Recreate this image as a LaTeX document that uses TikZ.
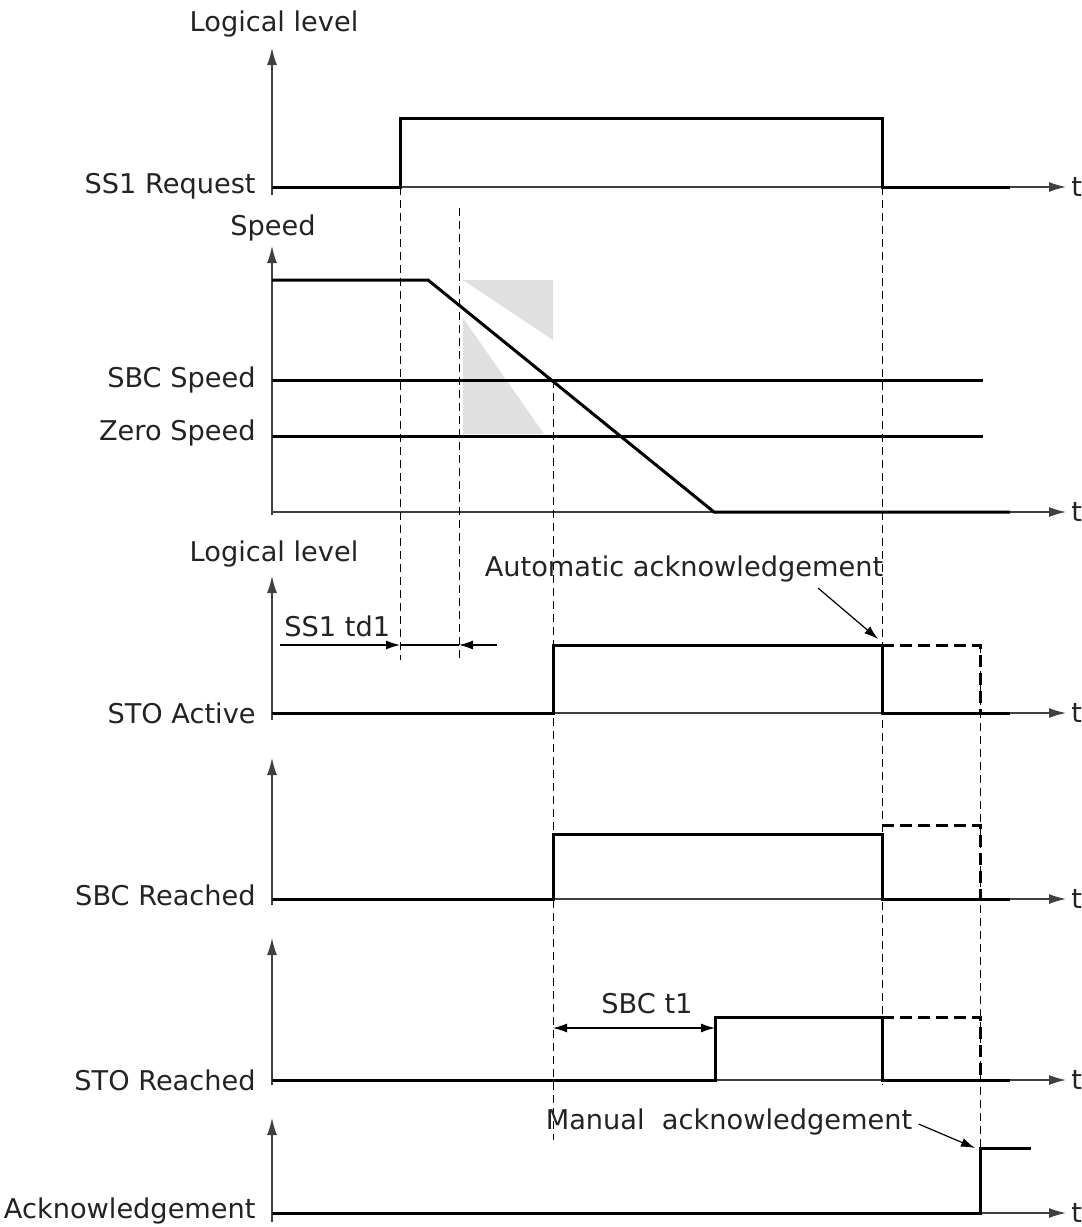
\documentclass[tikz,border=0pt]{standalone}
\usepackage{fontspec}
\setmainfont{DejaVu Sans}
\usetikzlibrary{arrows.meta, positioning}
\definecolor{ink}{RGB}{35,35,35}
\definecolor{wedge}{RGB}{224,224,224}

\begin{document}
\begin{tikzpicture}[x=0.5pt, y=-0.5pt,
    lbl/.style={anchor=east, font=\fontsize{13.6}{15}\selectfont, text=ink, inner sep=0pt},
    head/.style={font=\fontsize{13.6}{15}\selectfont, text=ink, inner sep=0pt},
    tlbl/.style={anchor=west, font=\fontsize{13.6}{15}\selectfont, text=ink, inner sep=0pt},
    axis/.style={-{Latex[length=8.5pt,width=5pt]}, line width=0.7pt, draw=black!75},
    sig/.style={line width=1.5pt},
    ghost/.style={line width=1.5pt, dash pattern=on 6pt off 3pt},
    guide/.style={line width=0.5pt, dash pattern=on 4pt off 2.5pt},
    ann/.style={-{Latex[length=7pt,width=4.5pt]}, line width=0.6pt},
  ]
  \useasboundingbox (0,0) rectangle (1082,1227);

  % gray wedges behind the speed ramp
  \fill[wedge] (463,280) -- (553,280) -- (553,340) -- cycle;
  \fill[wedge] (463,318) -- (463,434) -- (544,434) -- cycle;

  % axes
  \foreach \ya/\yb/\yt in {195/48/187, 515/246/512, 720/576/713, 905/758/899, 1085/938/1080, 1222/1118/1213} {
    \draw[axis] (272,\ya) -- (272,\yb);
    \draw[axis] (272,\yt) -- (1066,\yt);
    \node[tlbl] (t\yt) at (1071,\yt) {t};
  }

  % axis titles
  \node[head] (lvlA) at (274,24) {Logical level};
  \node[head] (speed) at (273,228) {Speed};
  \node[head] (lvlB) at (274,554) {Logical level};

  % signal names
  \node[lbl] (ss1) at (256,186) {SS1 Request};
  \node[lbl] (sbcspd) at (256,380) {SBC Speed};
  \node[lbl] (zerospd) at (256,433) {Zero Speed};
  \node[lbl] (stoact) at (256,713) {STO Active};
  \node[lbl] (sbcrch) at (256,895) {SBC Reached};
  \node[lbl] (storch) at (256,1080) {STO Reached};
  \node[lbl] (ackn) at (256,1211) {Acknowledgement};

  % guide lines
  \draw[guide] (400,187) -- (400,660);
  \draw[guide] (459,208) -- (459,660);
  \draw[guide] (553,380) -- (553,1140);
  \draw[guide] (882,187) -- (882,1085);
  \draw[guide] (980,645) -- (980,1148);

  % SS1 request
  \draw[sig] (272,187) -- (400,187) -- (400,118) -- (882,118) -- (882,187) -- (1010,187);

  % speed
  \draw[sig] (272,280) -- (428,280) -- (714,512) -- (1010,512);
  \draw[sig] (272,380) -- (983,380);
  \draw[sig] (272,436) -- (983,436);

  % STO active
  \draw[sig] (272,713) -- (553,713) -- (553,645) -- (882,645) -- (882,713) -- (1010,713);
  \draw[ghost] (882,645) -- (980,645) -- (980,713);

  % SBC reached
  \draw[sig] (272,899) -- (553,899) -- (553,834) -- (882,834) -- (882,899) -- (1010,899);
  \draw[ghost] (882,825) -- (980,825) -- (980,899);

  % STO reached
  \draw[sig] (272,1080) -- (715,1080) -- (715,1017) -- (882,1017) -- (882,1080) -- (1010,1080);
  \draw[ghost] (882,1017) -- (980,1017) -- (980,1080);

  % acknowledgement
  \draw[sig] (272,1213) -- (980,1213) -- (980,1148) -- (1031,1148);

  % SS1 td1
  \node[head, anchor=south west] (td1) at (284,637) {SS1 td1};
  \coordinate (tdA) at (280,645);
  \coordinate (tdB) at (400,645);
  \coordinate (tdC) at (459,645);
  \coordinate (tdD) at (497,645);
  \draw[ann] (tdA) -- (tdB);
  \draw[line width=0.6pt] (tdB) -- (tdC);
  \draw[ann] (tdD) -- (tdC);

  % SBC t1
  \node[head] (t1) at (647,1004) {SBC t1};
  \coordinate (t1A) at (553,1028);
  \coordinate (t1B) at (715,1028);
  \draw[{Latex[length=7pt,width=4.5pt]}-{Latex[length=7pt,width=4.5pt]}, line width=0.6pt] (t1A) -- (t1B);

  % acknowledgements
  \node[head] (auto) at (684,569) {Automatic acknowledgement};
  \coordinate (autoTip) at (878,639);
  \draw[ann] (818,588) -- (autoTip);
  \node[head] (manual) at (729,1122) {Manual\ \ acknowledgement};
  \coordinate (manTip) at (975,1148);
  \draw[ann] (manual.east) ++(6,2) -- (manTip);
\end{tikzpicture}
\end{document}
